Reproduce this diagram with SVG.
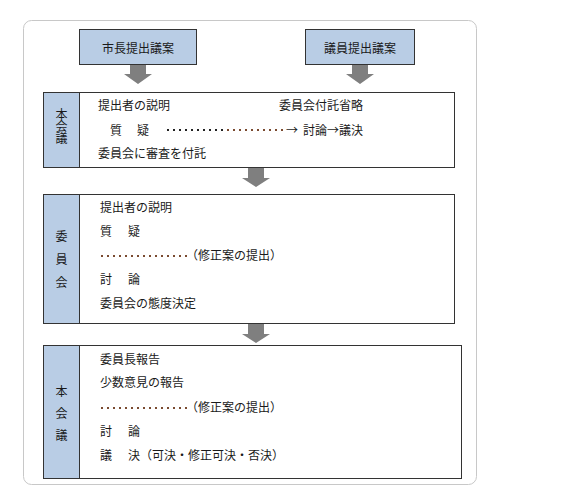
<svg xmlns="http://www.w3.org/2000/svg" width="566" height="492" viewBox="0 0 566 492">
<style>
.t{font-family:"Noto Sans CJK JP","Noto Sans CJK SC",sans-serif;font-size:12px;fill:#1a1a1a}
.v{writing-mode:vertical-rl;text-anchor:start}
.box{fill:#ffffff;stroke:#333333;stroke-width:1}
.lab{fill:#b9cde5;stroke:#333333;stroke-width:1}
.arr{fill:#7f7f7f}
.dots{stroke-width:2;stroke-dasharray:2 4;fill:none}
.mid{text-anchor:middle}
</style>
<rect x="23.5" y="20.5" width="453" height="464" rx="8" fill="#ffffff" stroke="#c8c8c8" stroke-width="1"/>
<g id="connectors">
<polygon class="arr" points="130,64 146,64 146,74 152,74 138,84 124,74 130,74"/>
<polygon class="arr" points="352,64 368,64 368,74 374,74 360,84 346,74 352,74"/>
<polygon class="arr" points="248,168 264,168 264,178 270,178 256,187 242,178 248,178"/>
<polygon class="arr" points="248,324 264,324 264,334 270,334 256,343 242,334 248,334"/>
</g>
<g id="mayor-bill">
<rect class="lab" x="79.5" y="29.5" width="117" height="35"/>
<text class="t mid" x="138" y="52.5">市長提出議案</text>
</g>
<g id="member-bill">
<rect class="lab" x="305.5" y="29.5" width="109" height="35"/>
<text class="t mid" x="360" y="52.5">議員提出議案</text>
</g>
<g id="plenary1">
<rect class="box" x="43.5" y="92.5" width="411" height="75"/>
<rect class="lab" x="43.5" y="92.5" width="36" height="75"/>
<text class="t v" x="61.5" y="108">本会議</text>
<text class="t" x="98" y="110">提出者の説明</text>
<text class="t" x="279" y="110">委員会付託省略</text>
<text class="t" x="110" y="134.5">質<tspan x="137">疑</tspan></text>
<line class="dots" x1="167" y1="130" x2="225" y2="130" stroke="#222222"/>
<line class="dots" x1="227" y1="130" x2="287" y2="130" stroke="#7a4a30"/>
<text class="t" x="286" y="134.5">→</text>
<text class="t" x="303" y="134.5">討論→議決</text>
<text class="t" x="98" y="158">委員会に審査を付託</text>
</g>
<g id="committee">
<rect class="box" x="43.5" y="194.5" width="411" height="129"/>
<rect class="lab" x="43.5" y="194.5" width="36" height="129"/>
<text class="t v" x="61.5" y="230" letter-spacing="11">委員会</text>
<text class="t" x="100" y="212">提出者の説明</text>
<text class="t" x="100" y="236">質<tspan x="128">疑</tspan></text>
<line class="dots" x1="101" y1="256" x2="189" y2="256" stroke="#7a4a30"/>
<text class="t" x="186" y="259.5">（修正案の提出）</text>
<text class="t" x="100" y="283.5">討<tspan x="128">論</tspan></text>
<text class="t" x="100" y="308">委員会の態度決定</text>
</g>
<g id="plenary2">
<rect class="box" x="43.5" y="345.5" width="418" height="133"/>
<rect class="lab" x="43.5" y="345.5" width="36" height="133"/>
<text class="t v" x="61.5" y="385" letter-spacing="10">本会議</text>
<text class="t" x="100" y="363.5">委員長報告</text>
<text class="t" x="100" y="387">少数意見の報告</text>
<line class="dots" x1="101" y1="408" x2="189" y2="408" stroke="#7a4a30"/>
<text class="t" x="186" y="411.5">（修正案の提出）</text>
<text class="t" x="100" y="435.5">討<tspan x="128">論</tspan></text>
<text class="t" x="100" y="459.5">議<tspan x="128">決（可決・修正可決・否決）</tspan></text>
</g>
</svg>
